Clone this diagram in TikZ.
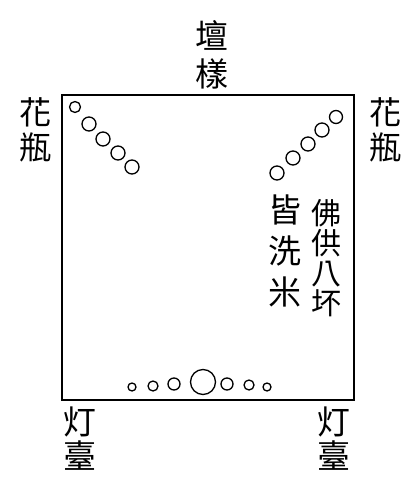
\documentclass[tikz,border=0pt]{standalone}
\usepackage{fontspec}
\newfontfamily\cjk{Noto Sans CJK TC}
\newcommand\hanzi[2]{\cjk\fontsize{#1}{#2}\selectfont}
\begin{document}
\begin{tikzpicture}[x=1pt,y=-1pt,
  word/.style={align=center,inner sep=0pt},
  cup/.style={line width=1.3pt}]
  \useasboundingbox (0,0) rectangle (413,494);
  \draw[line width=1.4pt] (62,95) rectangle (354,400);
  % labels
  \node[word,font=\hanzi{33}{38}] (tan) at (212,55) {壇\\樣};
  \node[word,font=\hanzi{32}{35}] (vaseL) at (35,130) {花\\瓶};
  \node[word,font=\hanzi{32}{35}] (vaseR) at (385,130) {花\\瓶};
  \node[word,font=\hanzi{30}{30}] (offer) at (326,258) {佛\\供\\八\\坏};
  \node[word,font=\hanzi{33}{41}] (rice) at (285,251) {皆\\洗\\米};
  \node[word,font=\hanzi{33}{34}] (lampL) at (80,439) {灯\\臺};
  \node[word,font=\hanzi{33}{34}] (lampR) at (334,439) {灯\\臺};
  % flower cups
  \foreach \x/\y/\r in {75/107/5.5,89/124/7,103/139/7,118/153/7,132/167/7} {
    \draw[cup] (\x,\y) circle (\r);
  }
  \foreach \x/\y/\r in {336/117/6.5,322/130/7,308/144/7,293/158/7,277/173/7} {
    \draw[cup] (\x,\y) circle (\r);
  }
  % lamps
  \foreach \x/\y/\r in {132/387/4,153/386/5,174/384/6,203/382/12.5,227/384/6,249/385/5,267/387/4} {
    \draw[cup] (\x,\y) circle (\r);
  }
\end{tikzpicture}
\end{document}
